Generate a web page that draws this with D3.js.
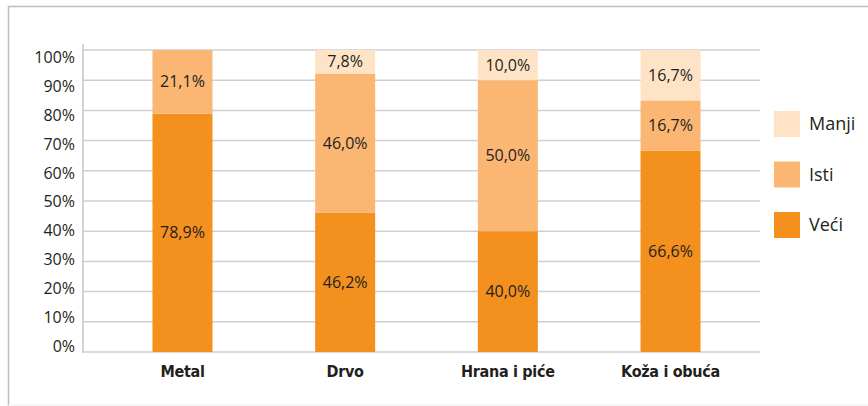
<!DOCTYPE html>
<html lang="sr">
<head>
<meta charset="UTF-8">
<title>Veći / Isti / Manji</title>
<style>
body {
    margin: 0;
    background-color: #fff;
}
text {
    fill: #231f20;
}
</style>
</head>
<body>
<div id="plot"></div>
<script src="https://cdn.jsdelivr.net/npm/d3@7"></script>
<script>

// data
const categories = ["Metal", "Drvo", "Hrana i piće", "Koža i obuća"];
const series = ["Veći", "Isti", "Manji"];
const veci  = [78.9, 46.2, 40.0, 66.6];
const isti  = [21.1, 46.0, 50.0, 16.7];
const manji = [0.0, 7.8, 10.0, 16.7];
const yTicks = [0, 10, 20, 30, 40, 50, 60, 70, 80, 90, 100];

const colors = ["#f4901e", "#fbb673", "#fee3c6"];

const w = 868,
      h = 406;

const plot = d3.select("#plot").append("svg")
    .attr("width", w)
    .attr("height", h);

// outer frame
plot.append("path")
    .attr("d", `M8.5,${h} V6.5 H${w}`)
    .attr("fill", "none")
    .attr("stroke", "#bdbdbd")
    .attr("stroke-width", 1.5);
plot.append("line")
    .attr("x1", 8).attr("x2", w)
    .attr("y1", 405).attr("y2", 405)
    .attr("stroke", "#eee");

// scales
const x = d3.scalePoint()
    .domain(categories)
    .range([93, 760])
    .padding(0.55);

const y = d3.scaleLinear()
    .domain([0, 100])
    .range([352, 50]);

// tick labels in the original sit on a slightly tighter spacing than the grid
const yLab = d3.scaleLinear()
    .domain([0, 100])
    .range([346, 57.5]);

const barW = 60;
const left = 83, right = 760;

// gridlines
plot.selectAll(".grid")
    .data(yTicks)
    .join("line")
    .attr("class", "grid")
    .attr("x1", left)
    .attr("x2", right)
    .attr("y1", d => y(d))
    .attr("y2", d => y(d))
    .attr("stroke", "#cfcfcf")
    .attr("stroke-width", 1.5);

// y axis line
plot.append("line")
    .attr("x1", left).attr("x2", left)
    .attr("y1", 44).attr("y2", y(0) + 1)
    .attr("stroke", "#c4c4c4")
    .attr("stroke-width", 1.5);

// y axis labels
const yAxis = d3.axisLeft(yLab)
    .tickValues(yTicks)
    .tickFormat(d => d + "%")
    .tickSize(0)
    .tickPadding(8);

plot.append("g")
    .attr("transform", `translate(${left},0)`)
    .call(yAxis)
    .call(g => g.select(".domain").remove())
    .call(g => g.selectAll("text")
        .attr("font-family", "'Open Sans', sans-serif")
        .attr("font-size", 16)
        .attr("fill", "#231f20"));

// stack
const rows = categories.map((c, i) => ({
    cat: c, "Veći": veci[i], "Isti": isti[i], "Manji": manji[i]
}));
const stacked = d3.stack().keys(series)(rows);

const layer = plot.selectAll(".layer")
    .data(stacked)
    .join("g")
    .attr("class", "layer")
    .attr("fill", (d, i) => colors[i]);

layer.selectAll("rect")
    .data(d => d.filter(s => s[1] - s[0] > 0))
    .join("rect")
    .attr("x", d => x(d.data.cat) - barW / 2)
    .attr("y", d => y(d[1]))
    .attr("width", barW)
    .attr("height", d => y(d[0]) - y(d[1]));

// value labels
const fmt = v => d3.format(".1f")(v).replace(".", ",") + "%";

layer.selectAll("text")
    .data(d => d.filter(s => s[1] - s[0] > 0))
    .join("text")
    .attr("x", d => x(d.data.cat))
    .attr("y", d => y((d[0] + d[1]) / 2))
    .attr("dy", "0.35em")
    .attr("text-anchor", "middle")
    .attr("font-family", "'Open Sans', sans-serif")
    .attr("font-size", 16)
    .text(d => fmt(d[1] - d[0]));

// category labels
plot.selectAll(".cat")
    .data(categories)
    .join("text")
    .attr("class", "cat")
    .attr("x", d => x(d))
    .attr("y", 377)
    .attr("text-anchor", "middle")
    .attr("font-family", "'DejaVu Sans Condensed', 'Liberation Sans Narrow', sans-serif")
    .attr("font-stretch", "condensed")
    .attr("font-weight", "bold")
    .attr("font-size", 16)
    .attr("letter-spacing", -0.3)
    .text(d => d);

// legend
const legendOrder = ["Manji", "Isti", "Veći"];
const legend = plot.selectAll(".legend")
    .data(legendOrder)
    .join("g")
    .attr("class", "legend")
    .attr("transform", (d, i) => `translate(774,${111 + i * 50.5})`);

legend.append("rect")
    .attr("width", 26)
    .attr("height", 26)
    .attr("fill", d => colors[series.indexOf(d)]);

legend.append("text")
    .attr("x", 35)
    .attr("y", 13)
    .attr("dy", "0.35em")
    .attr("font-family", "'Open Sans', sans-serif")
    .attr("font-size", 18)
    .text(d => d);
</script>
</body>
</html>
